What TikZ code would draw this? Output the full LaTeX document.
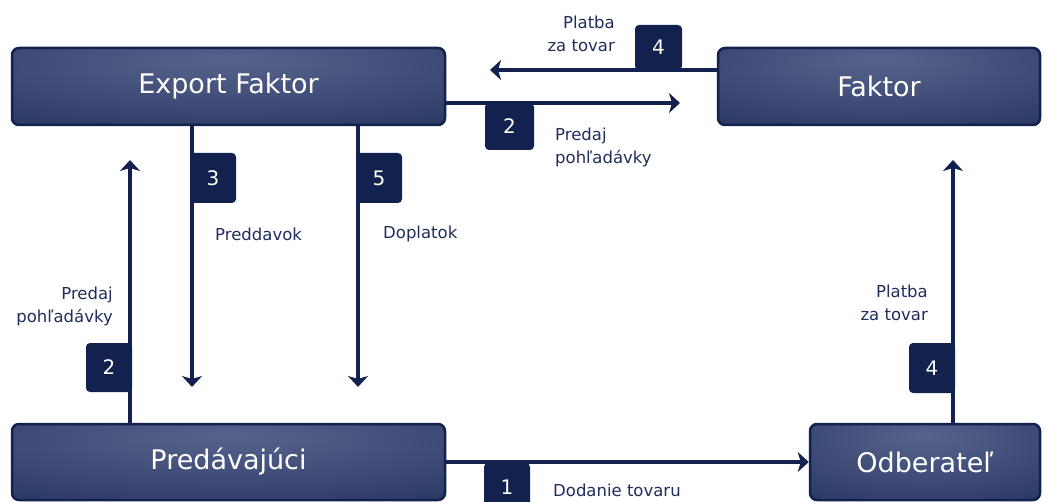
\documentclass[tikz,border=0pt]{standalone}
\usepackage{fontspec}
\setmainfont{DejaVu Sans}
\usetikzlibrary{arrows.meta}
\definecolor{navy}{HTML}{13214E}
\definecolor{boxin}{HTML}{56648D}
\definecolor{boxout}{HTML}{1E2C59}
\definecolor{labtext}{HTML}{1F2D5C}
\pgfdeclareradialshading{boxshade}{\pgfpoint{0bp}{18bp}}{color(0bp)=(boxin); color(55bp)=(boxout); color(90bp)=(boxout)}
\tikzset{
  mainbox/.style={draw=navy, line width=2.5pt, rounded corners=7pt, shading=boxshade, text=white, font=\fontsize{27}{32}\selectfont},
  tab/.style={fill=navy, rounded corners=4pt, text=white, font=\fontsize{20}{24}\selectfont, inner sep=0pt},
  lbl/.style={text=labtext, font=\fontsize{16.5}{23}\selectfont, inner sep=0pt},
  arr/.style={draw=navy, line width=4pt, -{Stealth[length=11pt,width=20pt,inset=3pt]}}
}
\begin{document}
\begin{tikzpicture}[x=1pt,y=-1pt]
\useasboundingbox (0,0) rectangle (1048,502);
\begin{scope}
\clip (0,0) rectangle (1048,502);
% main boxes
\node[mainbox, minimum width=433pt, minimum height=77pt] (ef) at (228.5,86.5) {Export Faktor};
\node[mainbox, minimum width=322pt, minimum height=77pt] (fk) at (879,86.5) {Faktor};
\node[mainbox, minimum width=433pt, minimum height=76pt] (pr) at (228.5,462) {Predávajúci};
\node[mainbox, minimum width=230pt, minimum height=76pt] (od) at (925,462) {Odberateľ};
% free arrow ends
\coordinate (e4t) at (490,70);
\coordinate (e2t) at (680,103);
\coordinate (e3) at (192,387);
\coordinate (e5) at (358,387);
\coordinate (e2l) at (130,160);
\coordinate (e4r) at (953,160);
% connectors
\draw[arr] (fk.west |- e4t) -- (e4t);
\draw[arr] (ef.east |- e2t) -- (e2t);
\draw[arr] (ef.south -| e3) -- (e3);
\draw[arr] (ef.south -| e5) -- (e5);
\draw[arr] (pr.north -| e2l) -- (e2l);
\draw[arr] (od.north -| e4r) -- (e4r);
\draw[arr] (pr.east) -- (od.west);
% tabs
\node[tab, minimum width=47pt, minimum height=45pt] (t4t) at (658.5,47.5) {4};
\node[tab, minimum width=49pt, minimum height=47pt] (t2t) at (509.5,126.5) {2};
\node[tab, minimum width=46pt, minimum height=50pt] (t3) at (213,178) {3};
\node[tab, minimum width=46pt, minimum height=50pt] (t5) at (379,178) {5};
\node[tab, minimum width=46pt, minimum height=49pt] (t2l) at (109,367.5) {2};
\node[tab, minimum width=46pt, minimum height=50pt] (t4r) at (932,368) {4};
\node[tab, minimum width=46pt, minimum height=48pt] (t1) at (507,487) {1};
% labels
\node[lbl, anchor=east, align=right] (l4t) at (615,34) {Platba\\za tovar};
\node[lbl, anchor=west, align=left] (l2t) at (555,147) {Predaj\\pohľadávky};
\node[lbl, anchor=west] (l3) at (215,234) {Preddavok};
\node[lbl, anchor=west] (l5) at (383,234) {Doplatok};
\node[lbl, anchor=east, align=right] (l2l) at (113,306) {Predaj\\pohľadávky};
\node[lbl, anchor=east, align=right] (l4r) at (928,303) {Platba\\za tovar};
\node[lbl, anchor=west] (l1) at (553,490) {Dodanie tovaru};
\end{scope}
\end{tikzpicture}
\end{document}
